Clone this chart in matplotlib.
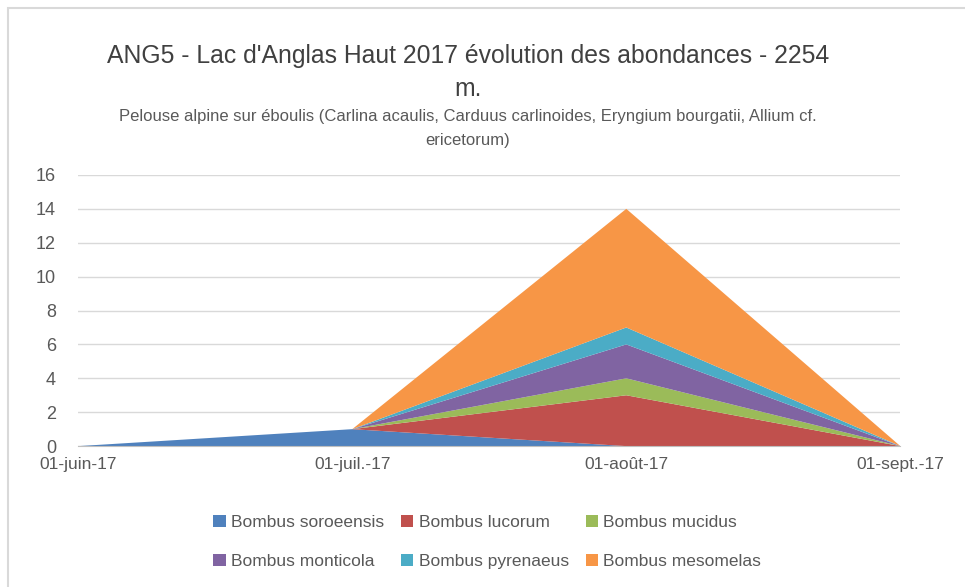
import matplotlib.pyplot as plt
from matplotlib.patches import Rectangle

plt.rcParams['font.family'] = ['Liberation Sans', 'DejaVu Sans']

# data
dates = ["01-juin-17", "01-juil.-17", "01-août-17", "01-sept.-17"]
soroeensis = [0, 1, 0, 0]
lucorum = [0, 0, 3, 0]
mucidus = [0, 0, 1, 0]
monticola = [0, 0, 2, 0]
pyrenaeus = [0, 0, 1, 0]
mesomelas = [0, 0, 7, 0]

names = ["Bombus soroeensis", "Bombus lucorum", "Bombus mucidus",
         "Bombus monticola", "Bombus pyrenaeus", "Bombus mesomelas"]
colors = ["#4F81BD", "#C0504D", "#9BBB59", "#8064A2", "#4BACC6", "#F79646"]

fig = plt.figure(figsize=(9.65, 5.87), dpi=100)
# chart frame like the excel chart area
fig.patches.append(Rectangle((8 / 965, -0.1), 1.0, 1.1 - 8 / 587, transform=fig.transFigure,
                             fill=False, edgecolor="#D9D9D9", linewidth=1.5))

ax = fig.add_axes([0.081, 0.240, 0.852, 0.462])
x = list(range(len(dates)))
ax.stackplot(x, soroeensis, lucorum, mucidus, monticola, pyrenaeus, mesomelas,
             colors=colors, labels=names, linewidth=0)

ax.set_xlim(0, 3)
ax.set_ylim(0, 16)
ax.set_yticks(range(0, 17, 2))
ax.set_xticks(x)
ax.set_xticklabels(dates)
ax.grid(axis="y", color="#D9D9D9", linewidth=1)
ax.set_axisbelow(True)
for s in ["top", "right", "left"]:
    ax.spines[s].set_visible(False)
ax.spines["bottom"].set_color("#BFBFBF")
ax.tick_params(axis="y", length=0, labelsize=13, labelcolor="#595959", pad=16)
ax.tick_params(axis="x", length=0, labelsize=12.5, labelcolor="#595959", pad=8)

fig.text(0.485, 0.905, "ANG5 - Lac d'Anglas Haut 2017 évolution des abondances - 2254",
         ha="center", va="center", fontsize=17.8, color="#404040")
fig.text(0.485, 0.848, "m.", ha="center", va="center", fontsize=17.8, color="#404040")
fig.text(0.485, 0.802, "Pelouse alpine sur éboulis (Carlina acaulis, Carduus carlinoides, Eryngium bourgatii, Allium cf.",
         ha="center", va="center", fontsize=12, color="#595959")
fig.text(0.485, 0.760, "ericetorum)", ha="center", va="center", fontsize=12, color="#595959")

# legend filled row by row, as in the reference
handles, labels = ax.get_legend_handles_labels()
order = [0, 3, 1, 4, 2, 5]
fig.legend([handles[i] for i in order], [labels[i] for i in order], ncol=3, loc="center",
           bbox_to_anchor=(0.505, 0.077), frameon=False, fontsize=12.5, labelcolor="#595959",
           handlelength=0.7, handleheight=0.7, handletextpad=0.3, columnspacing=1.0,
           labelspacing=1.35)

fig.savefig("out.png", dpi=100)
